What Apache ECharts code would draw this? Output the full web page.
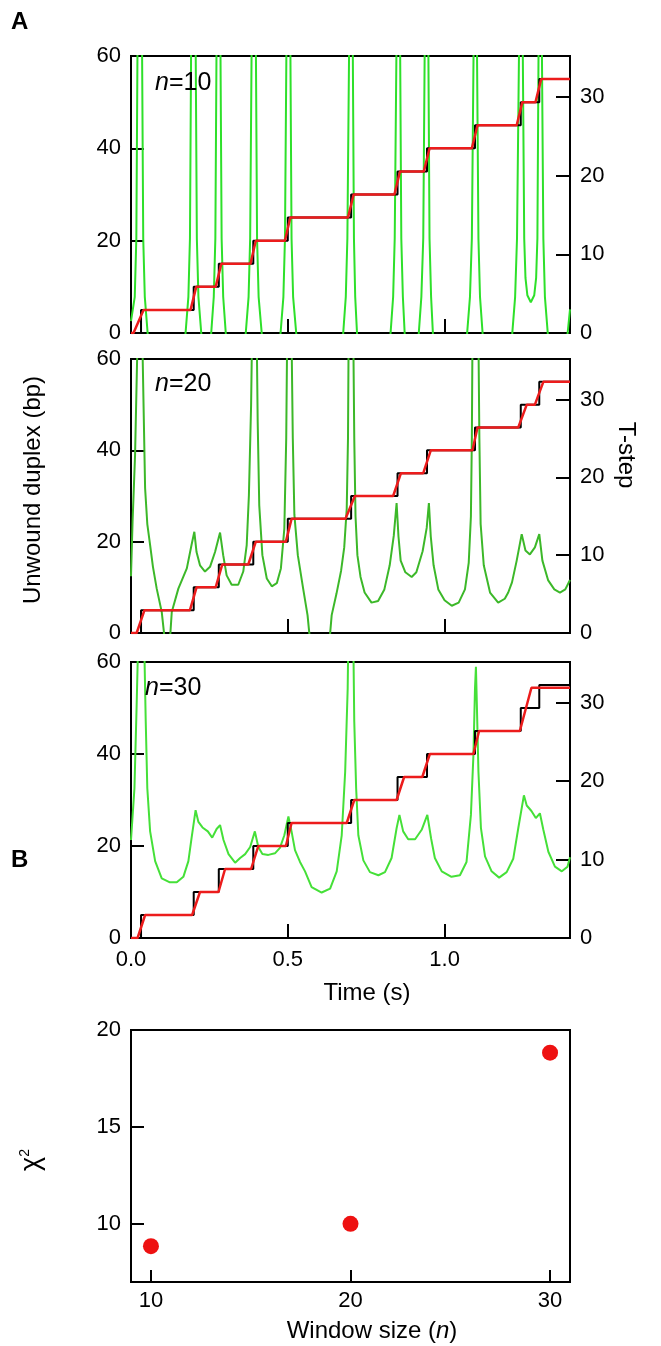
<!DOCTYPE html>
<html lang="en">
<head>
<meta charset="UTF-8">
<title>T-step window size</title>
<script src="https://cdn.jsdelivr.net/npm/echarts@6/dist/echarts.min.js"></script>
<style>
  html, body { margin: 0; padding: 0; background: #fff; }
  #chart { width: 661px; height: 1346px; }
</style>
</head>
<body>
<div id="chart"></div>
<script>
// ---- data ----
// true stepping trace (bp) : level reached at each time
var truthTimes  = [0, 0.032, 0.2, 0.28, 0.39, 0.5, 0.702, 0.85, 0.944, 1.097, 1.243, 1.302, 1.4];
var truthLevels = [0, 5, 10, 15, 20, 25, 30, 35, 40, 45, 50, 55, 55];

// fitted steps (red), [time, bp]
var fit10 = [[0,0],[0.008,0],[0.04,5],[0.19,5],[0.208,10],[0.27,10],[0.288,15],[0.381,15],[0.398,20],
  [0.491,20],[0.508,25],[0.692,25],[0.71,30],[0.84,30],[0.858,35],[0.934,35],[0.952,40],[1.087,40],
  [1.105,45],[1.23,45],[1.248,50],[1.29,50],[1.308,55],[1.4,55]];
var fit20 = [[0,0],[0.018,0],[0.043,5],[0.188,5],[0.209,10],[0.27,10],[0.291,15],[0.374,15],[0.398,20],
  [0.494,20],[0.512,25],[0.684,25],[0.714,30],[0.836,30],[0.861,35],[0.932,35],[0.956,40],[1.089,40],
  [1.105,45],[1.235,45],[1.262,50],[1.288,50],[1.315,55],[1.4,55]];
var fit30 = [[0,0],[0.021,0],[0.045,5],[0.195,5],[0.22,10],[0.279,10],[0.3,15],[0.383,15],[0.406,20],
  [0.494,20],[0.512,25],[0.688,25],[0.712,30],[0.847,30],[0.871,35],[0.929,35],[0.953,40],[1.092,40],
  [1.11,45],[1.24,45],[1.277,54.4],[1.4,54.4]];

// T-step statistic (green, right axis), [time, value]; values past the frame are cut off
var tstep10 = [
  [0,1.5],[0.012,4.6],[0.017,12],[0.021,38],[0.035,38],[0.039,12],[0.044,4.6],[0.055,-1],[0.055,null],
  [0.172,-1],[0.183,4.6],[0.188,12],[0.192,38],[0.206,38],[0.21,12],[0.215,4.6],[0.226,-1],[0.226,null],
  [0.254,-1],[0.264,4.6],[0.269,12],[0.273,38],[0.285,38],[0.289,12],[0.294,4.6],[0.304,-1],[0.304,null],
  [0.364,-1],[0.375,4.6],[0.38,12],[0.385,38],[0.398,38],[0.402,12],[0.407,4.6],[0.419,-1],[0.419,null],
  [0.475,-1],[0.486,4.6],[0.491,12],[0.496,38],[0.508,38],[0.512,12],[0.517,4.6],[0.529,-1],[0.529,null],
  [0.675,-1],[0.685,4.6],[0.69,12],[0.696,38],[0.707,38],[0.711,12],[0.715,4.6],[0.722,-1],[0.722,null],
  [0.826,-1],[0.836,4.6],[0.841,12],[0.847,38],[0.858,38],[0.862,12],[0.867,4.6],[0.874,-1],[0.874,null],
  [0.916,-1],[0.926,4.6],[0.932,12],[0.937,38],[0.948,38],[0.952,12],[0.957,4.6],[0.964,-1],[0.964,null],
  [1.07,-1],[1.081,4.6],[1.087,12],[1.093,38],[1.103,38],[1.108,12],[1.113,4.6],[1.123,-1],[1.123,null],
  [1.214,-1],[1.225,4.6],[1.231,12],[1.238,38],[1.249,38],[1.254,12],[1.258,7],[1.264,4.8],[1.275,3.9],
  [1.286,4.8],[1.292,7],[1.296,12],[1.3,38],[1.31,38],[1.315,12],[1.32,4.6],[1.331,-1],[1.331,null],
  [1.39,-1],[1.4,3]
];
var tstep20 = [
  [0,7.3],[0.005,14.3],[0.013,22.9],[0.021,38],[0.036,38],[0.045,18.6],[0.052,14],[0.061,11.3],[0.07,8.5],
  [0.082,5.7],[0.098,2.7],[0.108,-1],[0.108,null],
  [0.124,-1],[0.13,2.7],[0.151,5.7],[0.178,8.3],[0.193,11.3],[0.202,13],[0.209,10.4],[0.22,8.7],[0.236,7.9],
  [0.252,8.5],[0.268,10.4],[0.284,12.9],[0.294,10],[0.305,7.4],[0.321,6.2],[0.342,6.2],[0.358,7.9],
  [0.369,11.3],[0.376,17.7],[0.383,29.3],[0.386,38],[0.401,38],[0.404,27.2],[0.409,16.4],[0.419,10],
  [0.433,7],[0.449,6],[0.465,6.4],[0.478,8.3],[0.489,13.4],[0.495,25],[0.498,38],[0.512,38],[0.516,25],
  [0.521,15.2],[0.532,10],[0.549,5.7],[0.563,2.3],[0.571,-1],[0.571,null],
  [0.633,-1],[0.64,2.3],[0.655,5],[0.67,8],[0.68,11],[0.688,16],[0.692,25],[0.694,38],[0.709,38],
  [0.712,25],[0.716,15],[0.722,10],[0.732,7.2],[0.745,5.2],[0.767,3.9],[0.788,4.1],[0.808,5.6],
  [0.825,8.7],[0.838,12.5],[0.847,16.7],[0.853,12.4],[0.86,9.3],[0.875,7.8],[0.895,7.2],[0.91,7.8],
  [0.93,10.5],[0.943,13.5],[0.95,16.7],[0.956,12.4],[0.965,8.7],[0.98,5.6],[1.0,4.2],[1.023,3.5],
  [1.045,3.9],[1.065,5.6],[1.077,9],[1.084,15],[1.087,25],[1.089,38],[1.108,38],[1.111,25],[1.115,14],
  [1.125,8.7],[1.145,5.2],[1.171,3.9],[1.192,4.4],[1.203,5.2],[1.215,6.5],[1.23,9.3],[1.246,12.7],
  [1.258,10.6],[1.272,10.1],[1.288,11],[1.302,12.7],[1.312,9.3],[1.33,6.8],[1.35,5.6],[1.368,5.2],
  [1.385,5.6],[1.4,6.8]
];
var tstep30 = [
  [0,12.5],[0.011,19.1],[0.018,29.7],[0.023,38],[0.042,38],[0.047,27.6],[0.052,19.1],[0.061,13.6],
  [0.077,9.8],[0.098,7.6],[0.124,7.1],[0.146,7.1],[0.167,7.8],[0.183,9.8],[0.193,12.7],[0.206,16.3],
  [0.215,14.8],[0.228,14.1],[0.245,13.6],[0.259,12.8],[0.273,13.9],[0.284,14.4],[0.295,12.5],
  [0.311,10.7],[0.332,9.6],[0.348,10.2],[0.364,10.7],[0.38,11.6],[0.395,13.6],[0.406,11.6],[0.419,10.7],
  [0.438,10.6],[0.459,10.8],[0.475,11.5],[0.489,13.1],[0.502,15.5],[0.512,13.6],[0.523,11.2],
  [0.539,9.7],[0.555,8.5],[0.576,6.5],[0.608,5.8],[0.635,6.3],[0.656,8.5],[0.672,13.1],[0.683,21.2],
  [0.691,31.8],[0.693,38],[0.709,38],[0.712,27.6],[0.718,19.1],[0.725,13.1],[0.741,9.9],[0.762,8.4],
  [0.789,8],[0.81,8.4],[0.831,10.2],[0.847,14],[0.856,15.7],[0.868,13.6],[0.884,12.6],[0.906,12.6],
  [0.927,13.8],[0.945,15.7],[0.957,12.7],[0.969,10.2],[0.991,8.5],[1.022,7.8],[1.049,8],[1.07,9.7],
  [1.084,15.7],[1.092,23.3],[1.097,31.8],[1.1,34.6],[1.103,29.7],[1.108,21.2],[1.116,14],[1.129,10.4],
  [1.15,8.5],[1.174,7.7],[1.198,8.4],[1.219,10.1],[1.235,14],[1.253,18.2],[1.262,16.9],[1.277,16.2],
  [1.291,15.3],[1.304,15.9],[1.315,13.8],[1.331,11],[1.352,9.1],[1.374,8.5],[1.392,9.1],[1.4,10.3]
];

// panel B
var windowSizes = [10, 20, 30];
var chi2 = [8.85, 10.0, 18.83];

// axis ticks
var timeTicks = [0, 0.5, 1.0];
var stepTicks = [0, 10, 20, 30];
var windowTicks = [10, 20, 30];
var chiTicks = [10, 15, 20];

var FONT = 'Liberation Sans, Arial, Helvetica, sans-serif';
var myChart = echarts.init(document.getElementById('chart'));

var panels = [
  {top: 56, height: 277, fit: fit10, tstep: tstep10, green: '#2ee02a', label: '10', labelX: 155, labelY: 83},
  {top: 359, height: 274, fit: fit20, tstep: tstep20, green: '#3cb829', label: '20', labelX: 155, labelY: 384},
  {top: 662, height: 276, fit: fit30, tstep: tstep30, green: '#45e038', label: '30', labelX: 145, labelY: 688}
];

var truth = truthTimes.map(function (t, i) { return [t, truthLevels[i]]; });

var grids = [], xAxes = [], yAxes = [], series = [], texts = [];
var tickLine = {color: '#000', width: 2};
var labelStyle = {color: '#000', fontSize: 22, fontFamily: FONT};

function textEl(x, y, text, size, extra) {
  var el = {type: 'text', x: x, y: y, z: 10,
    style: {text: text, fontSize: size, fontFamily: FONT, fill: '#000', align: 'center', verticalAlign: 'middle',
      rich: {i: {fontStyle: 'italic', fontSize: size, fontFamily: FONT}}}};
  return Object.assign(el, extra || {});
}

panels.forEach(function (p, k) {
  grids.push({left: 131, width: 439, top: p.top, height: p.height,
    show: true, borderColor: '#000', borderWidth: 2, containLabel: false});
  xAxes.push({
    gridIndex: k, type: 'value', min: 0, max: 1.4,
    axisLine: {show: true, lineStyle: tickLine},
    axisTick: {show: true, inside: true, length: 14, lineStyle: tickLine, customValues: [0.5, 1.0]},
    axisLabel: Object.assign({show: k === 2, margin: 11, customValues: timeTicks,
      formatter: function (v) { return v.toFixed(1); }}, labelStyle),
    splitLine: {show: false}
  });
  yAxes.push({
    gridIndex: k, type: 'value', position: 'left', min: 0, max: 60, interval: 20,
    axisLine: {show: true, lineStyle: tickLine},
    axisTick: {show: true, inside: true, length: 13, lineStyle: tickLine},
    axisLabel: Object.assign({margin: 10}, labelStyle),
    splitLine: {show: false}
  });
  yAxes.push({
    gridIndex: k, type: 'value', position: 'right', min: 0, max: 35.2,
    axisLine: {show: true, lineStyle: tickLine},
    axisTick: {show: true, inside: true, length: 14, lineStyle: tickLine, customValues: [10, 20, 30]},
    axisLabel: Object.assign({margin: 10, customValues: stepTicks}, labelStyle),
    splitLine: {show: false}
  });
  series.push({
    type: 'line', xAxisIndex: k, yAxisIndex: 2 * k + 1, data: p.tstep,
    showSymbol: false, connectNulls: false, clip: true, z: 1,
    lineStyle: {color: p.green, width: 2}
  });
  series.push({
    type: 'line', xAxisIndex: k, yAxisIndex: 2 * k, data: truth, step: 'end',
    showSymbol: false, clip: true, z: 2,
    lineStyle: {color: '#000', width: 2}
  });
  series.push({
    type: 'line', xAxisIndex: k, yAxisIndex: 2 * k, data: p.fit,
    showSymbol: false, clip: true, z: 3,
    lineStyle: {color: '#ec1c1c', width: 2.5}
  });
  texts.push(textEl(p.labelX, p.labelY, '{i|n}=' + p.label, 25, {}));
  texts[texts.length - 1].style.align = 'left';
});

// panel B
grids.push({left: 131, width: 439, top: 1030, height: 252,
  show: true, borderColor: '#000', borderWidth: 2});
xAxes.push({
  gridIndex: 3, type: 'value', min: 9, max: 31,
  axisLine: {show: true, lineStyle: tickLine},
  axisTick: {show: true, inside: true, length: 12, lineStyle: tickLine, customValues: windowTicks},
  axisLabel: Object.assign({margin: 8, customValues: windowTicks}, labelStyle),
  splitLine: {show: false}
});
yAxes.push({
  gridIndex: 3, type: 'value', min: 7, max: 20,
  axisLine: {show: true, lineStyle: tickLine},
  axisTick: {show: true, inside: true, length: 13, lineStyle: tickLine, customValues: [10, 15]},
  axisLabel: Object.assign({margin: 10, customValues: chiTicks}, labelStyle),
  splitLine: {show: false}
});
series.push({
  type: 'scatter', xAxisIndex: 3, yAxisIndex: 6,
  data: windowSizes.map(function (w, i) { return [w, chi2[i]]; }),
  symbolSize: 16, itemStyle: {color: '#ee1111', opacity: 1}
});

texts.push(
  {type: 'text', x: 11, y: 10, style: {text: 'A', fontSize: 24, fontWeight: 'bold', fontFamily: FONT, fill: '#000'}},
  {type: 'text', x: 11, y: 848, style: {text: 'B', fontSize: 24, fontWeight: 'bold', fontFamily: FONT, fill: '#000'}},
  textEl(33, 490, 'Unwound duplex (bp)', 24, {rotation: Math.PI / 2}),
  textEl(626, 455, 'T-step', 24, {rotation: -Math.PI / 2}),
  textEl(367, 993, 'Time (s)', 24),
  textEl(372, 1331, 'Window size ({i|n})', 24),
  {type: 'text', x: 32, y: 1160, rotation: Math.PI / 2, z: 10,
    style: {text: 'χ{s|2}', fontSize: 27, fontFamily: FONT, fill: '#000', align: 'center', verticalAlign: 'middle',
      rich: {s: {fontSize: 14, fontFamily: FONT, verticalAlign: 'top'}}}}
);

var option = {
  animation: false,
  backgroundColor: '#fff',
  grid: grids,
  xAxis: xAxes,
  yAxis: yAxes,
  series: series,
  graphic: texts
};

myChart.setOption(option);
</script>
</body>
</html>
